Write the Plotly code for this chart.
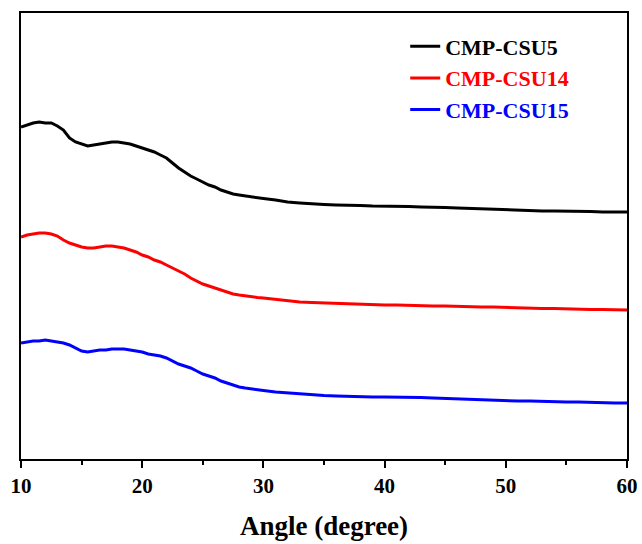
import plotly.graph_objects as go

angle = [10, 10.5, 11, 11.5, 12, 12.5, 13, 13.5, 14, 14.5, 15, 15.5, 16, 16.5, 17, 17.5,
         18, 18.5, 19, 19.5, 20, 20.5, 21, 21.5, 22, 22.5, 23, 23.5, 24, 24.5, 25, 25.5,
         26, 26.5, 27, 27.5, 28, 28.5, 29, 29.5, 30,
         31, 32, 33, 34, 35, 36, 37, 38, 39, 40, 41, 42, 43, 44, 45, 46, 47, 48, 49, 50,
         51, 52, 53, 54, 55, 56, 57, 58, 59, 60]

csu5 = [332, 334, 336, 337, 336, 336, 333, 329, 321, 317, 315, 313, 314, 315, 316, 317,
        317, 316, 315, 313, 311, 309, 307, 304, 301, 296, 291, 287, 283, 280, 277, 274,
        272, 269, 267, 265, 264, 263, 262, 261, 260.5,
        259, 257, 256, 255, 254.5, 254, 254, 253.5, 253, 253, 253, 252.5, 252, 252, 251.5,
        251, 250.5, 250, 249.5, 249, 249, 248.5, 248, 248, 248, 247.5, 247.5, 247, 247, 247]

csu14 = [222, 224, 225, 226, 226, 225, 223, 219, 216, 214, 212, 211, 211, 212, 213, 213,
         212, 211, 209, 207, 204, 202, 199, 197, 194, 191, 188, 185, 181, 178, 175, 173,
         171, 169, 167, 165, 164, 163, 162, 161.5, 161,
         159.5, 158, 157, 156.5, 156, 155.5, 155, 155, 154.5, 154, 154, 153.5, 153.5, 153, 153,
         152.5, 152.5, 152, 152, 151.5, 151, 151, 150.5, 150.5, 150, 150, 149.5, 149.5, 149, 149]

csu15 = [116, 117, 118, 118, 119, 118, 117, 116, 114, 111, 108, 107, 108, 109, 109, 110,
         110, 110, 109, 108, 107, 105, 104, 103, 101, 98, 95, 93, 91, 88, 85, 83,
         81, 78, 76, 74, 72, 71, 70, 69, 68.5,
         67, 66, 65, 64, 63.5, 63, 62.5, 62.5, 62, 62, 62, 61.5, 61.5, 61, 60.5,
         60, 60, 59.5, 59, 58.5, 58, 58, 57.5, 57.5, 57, 57, 56.5, 56.5, 56, 56]

names = ["CMP-CSU5", "CMP-CSU14", "CMP-CSU15"]
colors = ["#000000", "#ff0000", "#0000ff"]
series = [csu5, csu14, csu15]

FONT = "Liberation Serif, Times New Roman, serif"

fig = go.Figure()
for name, col, ys in zip(names, colors, series):
    fig.add_trace(go.Scatter(
        x=angle, y=ys, mode="lines", line=dict(color=col, width=3),
        name=f"<span style='color:{col}'>{name}</span>",
    ))

fig.update_layout(
    width=642, height=544,
    margin=dict(l=21, r=15, t=13, b=85),
    paper_bgcolor="white", plot_bgcolor="white",
    font=dict(family=FONT, color="black", size=20, weight="bold"),
    showlegend=True,
    legend=dict(x=0.634, y=0.972, xanchor="left", yanchor="top", tracegroupgap=0,
                bgcolor="rgba(0,0,0,0)", font=dict(family=FONT, size=22, weight="bold")),
    xaxis=dict(
        range=[10, 60], tickmode="linear", tick0=10, dtick=10, automargin=False,
        ticks="outside", ticklen=7, tickwidth=2, tickcolor="black",
        minor=dict(dtick=5, ticks="outside", ticklen=4, tickwidth=2, tickcolor="black"),
        showline=True, linewidth=2, linecolor="black", mirror=True,
        showgrid=False, zeroline=False,
        tickfont=dict(family=FONT, size=21, weight="bold"),
        title=dict(text="Angle (degree)", font=dict(family=FONT, size=27, weight="bold"), standoff=19),
    ),
    yaxis=dict(
        range=[0, 446], showticklabels=False, ticks="", automargin=False,
        showline=True, linewidth=2, linecolor="black", mirror=True,
        showgrid=False, zeroline=False,
    ),
)

fig.write_html("out.html")
